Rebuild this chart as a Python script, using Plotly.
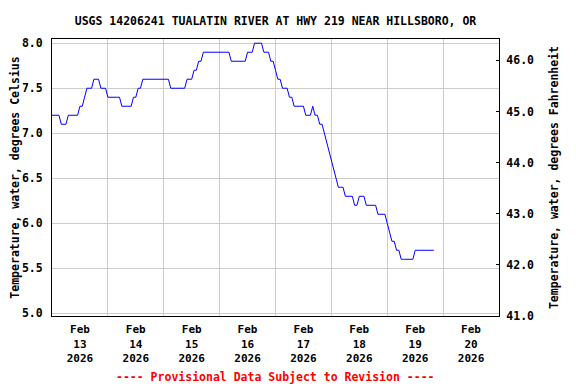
import pandas as pd
import plotly.graph_objects as go

TITLE = "USGS 14206241 TUALATIN RIVER AT HWY 219 NEAR HILLSBORO, OR"
Y_LEFT_TITLE = "Temperature, water, degrees Celsius"
Y_RIGHT_TITLE = "Temperature, water, degrees Fahrenheit"
NOTE = "---- Provisional Data Subject to Revision ----"

start_time = "2026-02-13 00:00"
# Hourly water temperature (deg C)
day1 = [7.2, 7.2, 7.2, 7.2, 7.1, 7.1, 7.1, 7.2, 7.2, 7.2, 7.2, 7.2,
        7.3, 7.3, 7.4, 7.5, 7.5, 7.5, 7.6, 7.6, 7.6, 7.5, 7.5, 7.5]
day2 = [7.4, 7.4, 7.4, 7.4, 7.4, 7.4, 7.3, 7.3, 7.3, 7.3, 7.3, 7.4,
        7.4, 7.5, 7.5, 7.6, 7.6, 7.6, 7.6, 7.6, 7.6, 7.6, 7.6, 7.6]
day3 = [7.6, 7.6, 7.6, 7.5, 7.5, 7.5, 7.5, 7.5, 7.5, 7.5, 7.6, 7.6,
        7.6, 7.7, 7.7, 7.8, 7.8, 7.9, 7.9, 7.9, 7.9, 7.9, 7.9, 7.9]
day4 = [7.9, 7.9, 7.9, 7.9, 7.9, 7.8, 7.8, 7.8, 7.8, 7.8, 7.8, 7.8,
        7.9, 7.9, 7.9, 8.0, 8.0, 8.0, 8.0, 7.9, 7.9, 7.9, 7.8, 7.8]
day5 = [7.7, 7.6, 7.6, 7.5, 7.5, 7.5, 7.4, 7.4, 7.3, 7.3, 7.3, 7.3,
        7.3, 7.2, 7.2, 7.2, 7.3, 7.2, 7.2, 7.1, 7.1, 7.0, 6.9, 6.8]
day6 = [6.7, 6.6, 6.5, 6.4, 6.4, 6.4, 6.3, 6.3, 6.3, 6.3, 6.2, 6.2,
        6.3, 6.3, 6.3, 6.2, 6.2, 6.2, 6.2, 6.2, 6.1, 6.1, 6.1, 6.1]
day7 = [6.0, 5.9, 5.8, 5.8, 5.7, 5.7, 5.6, 5.6, 5.6, 5.6, 5.6, 5.6,
        5.7, 5.7, 5.7, 5.7, 5.7, 5.7, 5.7, 5.7, 5.7]

temps_c = day1 + day2 + day3 + day4 + day5 + day6 + day7
times = pd.date_range(start_time, periods=len(temps_c), freq="h")
temps_f = [c * 9 / 5 + 32 for c in temps_c]

FONT = "DejaVu Sans Mono"
FS = 11.5
W, H = 568, 376  # page body adds an 8px margin

fig = go.Figure()
fig.add_trace(go.Scatter(x=times, y=temps_c, mode="lines",
                         line=dict(color="#0000ff", width=1),
                         showlegend=False, hoverinfo="x+y"))
fig.add_trace(go.Scatter(x=times, y=temps_f, mode="lines", yaxis="y2",
                         line=dict(color="rgba(0,0,0,0)", width=0),
                         showlegend=False, hoverinfo="skip"))

fig.update_layout(
    width=W, height=H,
    margin=dict(l=43.5, r=77, t=31.3, b=68, autoexpand=False),
    paper_bgcolor="white", plot_bgcolor="white",
    font=dict(family=FONT, size=FS, color="black", weight="bold"),
    title=dict(text=TITLE, x=0.5, xref="paper", xanchor="center",
               y=(H - 13) / H, yref="container", yanchor="middle",
               font=dict(family=FONT, size=FS, color="black", weight="bold")),
    xaxis=dict(
        type="date", automargin=False,
        range=["2026-02-13 00:00", "2026-02-21 00:00"],
        dtick=86400000, tick0="2026-02-13",
        ticklabelmode="period",
        tickformat="%b<br>%d<br>%Y",
        ticklabelstandoff=3,
        showgrid=True, gridcolor="#cccccc", gridwidth=1,
        ticks="", showline=True, linecolor="black", linewidth=1, mirror=True,
        tickfont=dict(family=FONT, size=11, color="black", weight="bold"),
        zeroline=False,
    ),
    yaxis=dict(
        automargin=False,
        range=[4.97, 8.047], dtick=0.5, tick0=5, tickformat=".1f",
        showgrid=True, gridcolor="#cccccc", gridwidth=1,
        ticks="", ticklabelstandoff=6,
        showline=True, linecolor="black", linewidth=1, mirror=True,
        zeroline=False,
        title=dict(text=Y_LEFT_TITLE, standoff=3,
                   font=dict(family=FONT, size=FS, color="black", weight="bold")),
        tickfont=dict(family=FONT, size=FS, color="black", weight="bold"),
    ),
    yaxis2=dict(
        overlaying="y", side="right", automargin=False,
        range=[41.0, 46.42], dtick=1, tick0=41, tickformat=".1f",
        showgrid=False, zeroline=False,
        ticks="inside", ticklen=3, tickcolor="black", ticklabelstandoff=4,
        showline=True, linecolor="black", linewidth=1,
        title=dict(text=Y_RIGHT_TITLE, standoff=16,
                   font=dict(family=FONT, size=FS, color="black", weight="bold")),
        tickfont=dict(family=FONT, size=FS, color="black", weight="bold"),
    ),
    annotations=[dict(text=NOTE, xref="paper", yref="paper", x=0.5, y=-0.22,
                      xanchor="center", yanchor="middle", showarrow=False,
                      font=dict(family=FONT, size=FS, color="red", weight="bold"))],
)

fig.write_html("out.html")
